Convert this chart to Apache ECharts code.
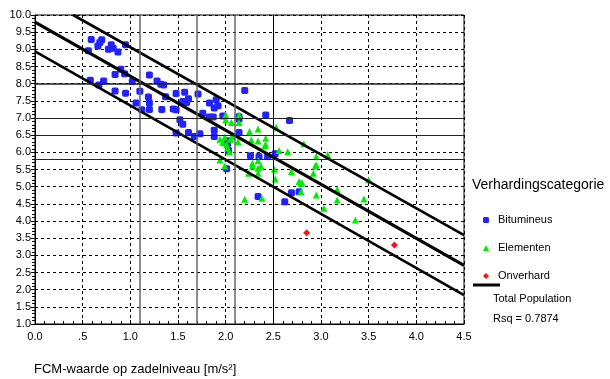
<!DOCTYPE html>
<html><head><meta charset="utf-8">
<script src="https://cdn.jsdelivr.net/npm/echarts/dist/echarts.min.js"></script>
<style>html,body{margin:0;padding:0;background:#fff}#c{width:610px;height:379px}</style>
</head><body><div id="c"></div>
<script>
// ---- data ----
const bitumineus = [
 [0.59,9.29],[0.70,9.28],[0.68,9.20],[0.66,9.10],[0.80,9.13],[0.77,9.00],[0.82,9.03],[0.87,8.92],[0.95,9.13],[0.56,8.96],
 [0.90,8.42],[0.84,8.27],[0.94,8.29],[1.02,8.06],[0.58,8.10],[0.72,8.08],[0.67,7.96],[0.84,7.79],[0.95,7.72],
 [1.20,8.25],[1.28,8.08],[1.32,7.98],[1.35,7.96],[1.37,7.62],[1.10,7.78],[1.19,7.61],[1.20,7.44],[1.06,7.44],[1.12,7.24],[1.20,7.25],[1.33,7.25],
 [1.48,7.71],[1.57,7.75],[1.61,7.56],[1.55,7.48],[1.59,7.45],[1.71,7.70],[1.45,7.26],[1.48,7.24],[1.83,7.44],[1.90,7.53],[1.92,7.36],[1.88,7.29],
 [2.20,7.80],[1.76,7.14],[1.83,7.03],[1.87,7.03],[1.97,7.06],[1.52,6.95],[1.55,6.82],[1.48,6.56],[1.61,6.58],[1.67,6.46],[1.73,6.54],
 [1.88,6.64],[1.88,6.46],[2.02,6.34],[2.03,6.05],[2.14,6.58],[2.42,7.09],[2.26,5.90],[2.35,5.88],[2.01,5.52],
 [2.67,6.93],[2.14,7.04],[2.14,6.97],[2.02,6.25],[2.44,5.88],[2.52,5.96],[2.34,4.71],[2.62,4.56],[2.69,4.82],[2.77,4.85]
];
const elementen = [
 [2.00,7.09],[2.06,6.87],[2.14,6.87],[2.00,6.95],[2.14,7.09],[1.94,6.38],[1.99,6.44],[2.05,6.38],[1.97,6.29],[2.01,6.22],
 [2.25,6.61],[2.34,6.68],[2.27,6.36],[2.34,6.33],[2.42,6.41],[2.41,6.19],[2.02,6.12],[2.04,6.02],[1.94,5.78],[1.99,5.60],
 [2.34,5.76],[2.37,5.60],[2.28,5.60],[2.53,6.73],[2.42,6.22],[2.56,6.05],[2.65,6.02],[2.82,6.25],[2.28,5.68],[2.34,5.54],
 [2.34,5.39],[2.24,5.39],[2.51,5.51],[2.69,5.44],[2.52,5.22],[2.77,5.15],[2.79,5.10],[2.92,5.39],[2.95,5.88],[2.95,5.63],
 [2.79,4.85],[2.95,4.76],[3.17,4.92],[2.20,4.63],[2.38,4.66],[3.03,4.37],[3.07,5.93],[2.13,6.31],[2.07,6.46],[3.50,5.20],
 [3.17,4.61],[3.45,4.64],[3.36,4.03],[2.94,5.60],[2.80,5.12]
];
const onverhard = [[2.85,3.66],[3.77,3.30]];
const fitCenter = [[0,9.79],[4.5,2.71]];
const fitUpper = [[0.40,10.0],[4.5,3.59]];
const fitLower = [[0,8.94],[4.5,1.84]];
const refX = [1.1,1.7,2.1,2.5];
const refY = [8.0,7.0,6.5,5.8];
const legendTitle = 'Verhardingscategorie';
const xTitle = 'FCM-waarde op zadelniveau [m/s²]';
const rsqText = 'Rsq = 0.7874';

const FONT = '"Liberation Sans", Arial, sans-serif';
const chart = echarts.init(document.getElementById('c'), null, {renderer:'canvas'});
chart.setOption({
  animation:false,
  backgroundColor:'#fff',
  textStyle:{fontFamily:FONT},
  grid:{left:35,right:146,top:15,bottom:55,show:true,borderColor:'#000',borderWidth:1,backgroundColor:'transparent'},
  xAxis:{type:'value',min:0,max:4.5,interval:0.5,
    axisLine:{lineStyle:{color:'#000',width:1}},
    axisTick:{inside:true,length:4,lineStyle:{color:'#000'}},
    minorTick:{show:true,splitNumber:5,length:3,lineStyle:{color:'#000'}},
    axisLabel:{color:'#000',fontSize:11,margin:7,fontFamily:FONT,
      formatter:v=> Math.abs(v-0.5)<1e-9 ? '.5' : v.toFixed(1)},
    splitLine:{show:true,lineStyle:{color:'#000',type:[3,3],width:1}}
  },
  yAxis:{type:'value',min:1,max:10,interval:0.5,
    axisLine:{show:true,lineStyle:{color:'#000',width:1}},
    axisTick:{show:true,length:4,lineStyle:{color:'#000'}},
    minorTick:{show:true,splitNumber:5,length:3,lineStyle:{color:'#000'}},
    axisLabel:{color:'#000',fontSize:11,margin:4,fontFamily:FONT,formatter:v=>v.toFixed(1)},
    splitLine:{show:true,lineStyle:{color:'#000',type:[3,3],width:1}}
  },
  legend:{orient:'vertical',left:478,top:205,itemWidth:6,itemHeight:6,itemGap:8,
    data:['Bitumineus','Elementen','Onverhard'],
    textStyle:{fontSize:11,color:'#000',fontFamily:FONT,lineHeight:14,padding:[6,0,0,4]}},
  series:[
    {type:'line',name:'ref',data:[],z:1,silent:true,
      markLine:{silent:true,symbol:'none',label:{show:false},animation:false,
        data:[
          ...refX.map((v,i)=>({xAxis:v,lineStyle:{color:i===3?'#000':'#666',width:i===3?1:1.5,type:'solid'}})),
          ...refY.map((v,i)=>({yAxis:v,lineStyle:{color:'#222',width:i===0?1.5:1.2,type:'solid'}}))
        ]}},
    {type:'scatter',name:'Bitumineus',data:bitumineus,symbol:'roundRect',symbolSize:7,z:3,
      itemStyle:{color:'#2222ff',opacity:1}},
    {type:'scatter',name:'Elementen',data:elementen,symbol:'triangle',symbolSize:7,z:3,
      itemStyle:{color:'#00ee00',opacity:1}},
    {type:'scatter',name:'Onverhard',data:onverhard,symbol:'diamond',symbolSize:7,z:3,
      itemStyle:{color:'#ff1010',opacity:1}},
    {type:'line',name:'fitC',data:fitCenter,symbol:'none',z:4,clip:true,lineStyle:{color:'#000',width:3.2}},
    {type:'line',name:'fitU',data:fitUpper,symbol:'none',z:4,clip:true,lineStyle:{color:'#000',width:2.6}},
    {type:'line',name:'fitL',data:fitLower,symbol:'none',z:4,clip:true,lineStyle:{color:'#000',width:2.6}}
  ],
  graphic:[
    {type:'text',left:472,top:178,style:{text:legendTitle,fontSize:14,fill:'#000',fontFamily:FONT}},
    {type:'line',shape:{x1:473,y1:285,x2:500,y2:285},style:{stroke:'#000',lineWidth:3}},
    {type:'text',left:493,top:293,style:{text:'Total Population',fontSize:11,fill:'#000',fontFamily:FONT}},
    {type:'text',left:493,top:313,style:{text:rsqText,fontSize:11,fill:'#000',fontFamily:FONT}},
    {type:'text',left:34,top:363,style:{text:xTitle,fontSize:13,fill:'#000',fontFamily:FONT}}
  ]
});
</script>
</body></html>
